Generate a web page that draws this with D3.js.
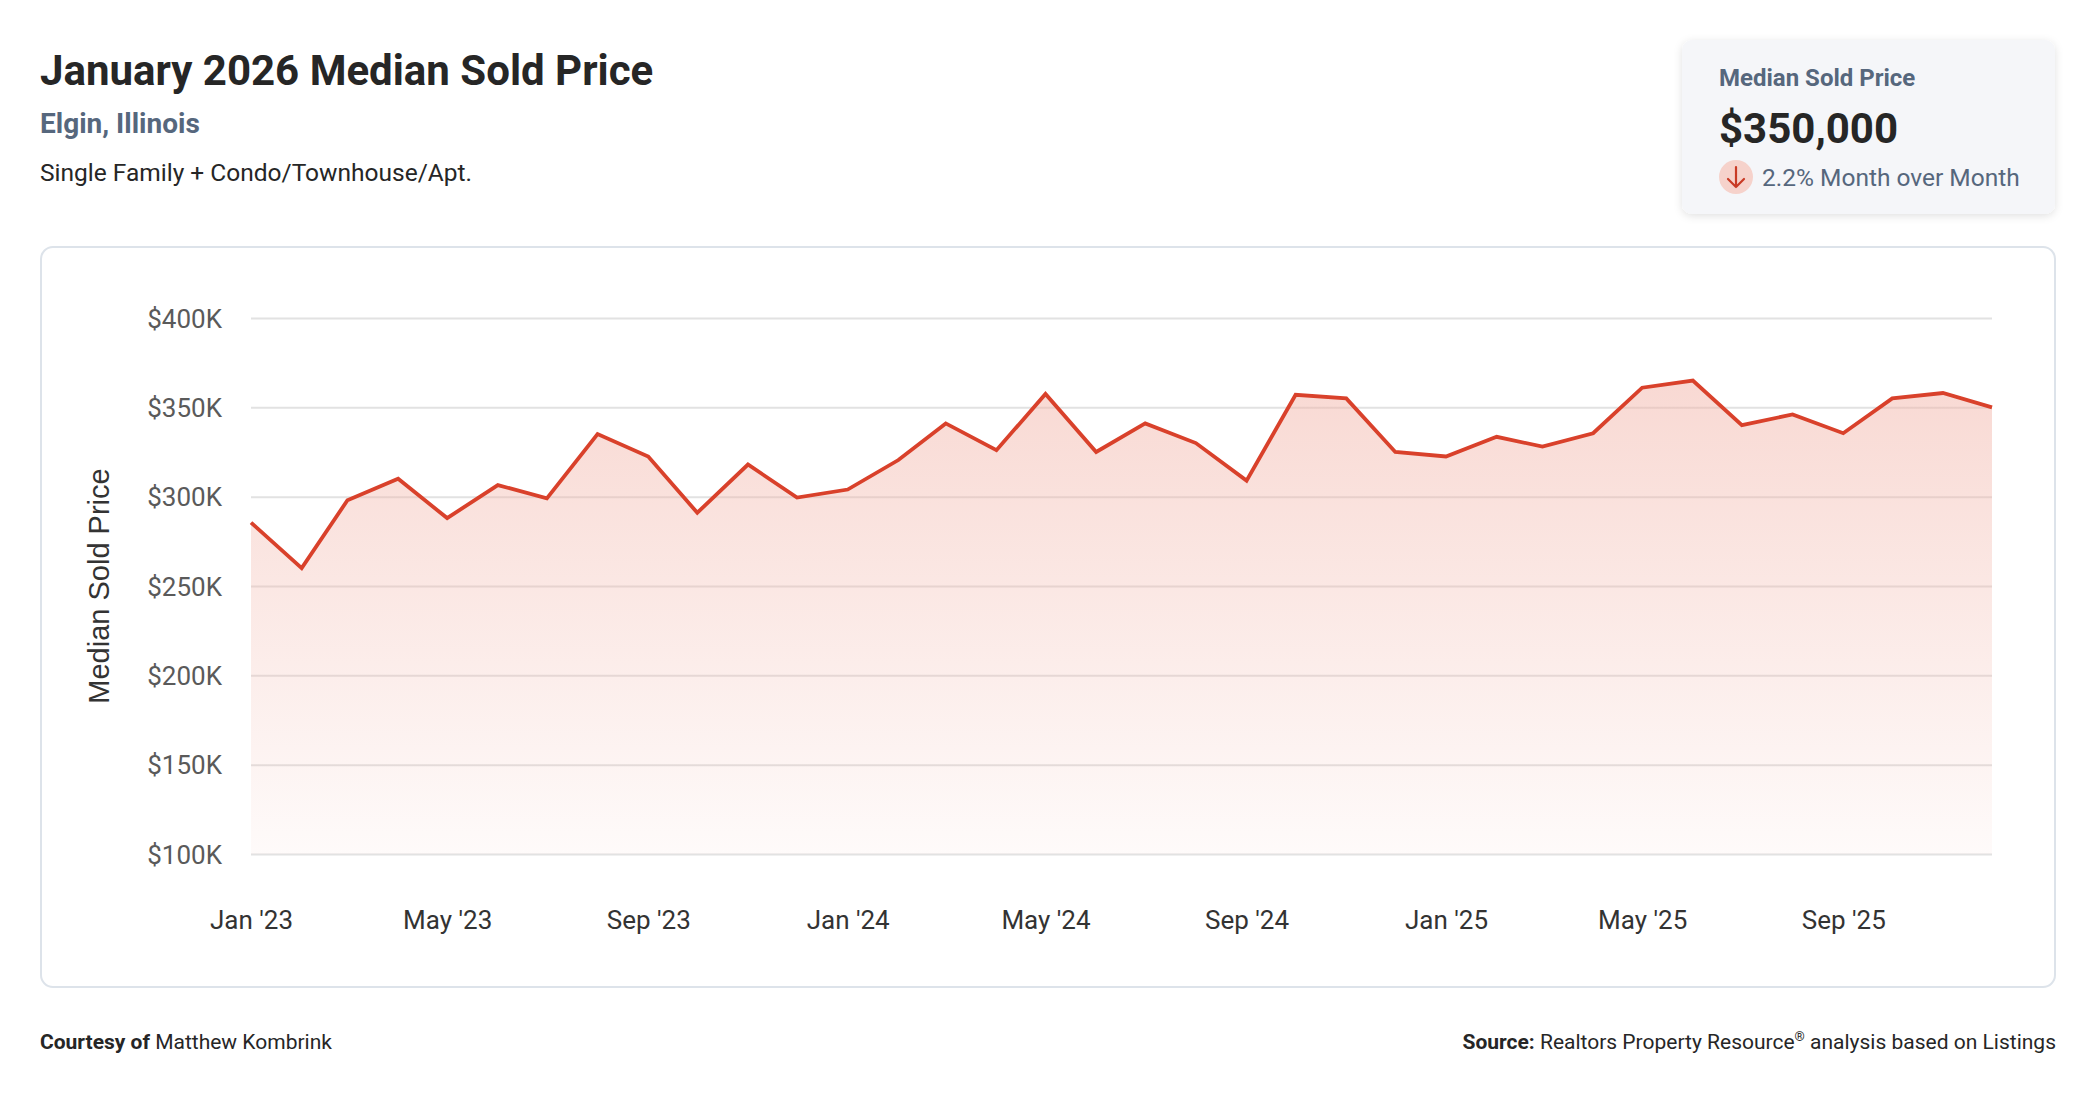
<!DOCTYPE html>
<meta charset="utf-8">
<style>
body { margin: 0; background: #fff; }
svg { display: block; font-family: Roboto, "Noto Sans", sans-serif; }
</style>
<svg id="chart" width="2096" height="1100"></svg>
<script src="https://cdn.jsdelivr.net/npm/d3@7"></script>
<script>

// monthly median sold price, Jan 2023 .. Dec 2025 (36 points)
var months = [
  "2023-01","2023-02","2023-03","2023-04","2023-05","2023-06","2023-07","2023-08","2023-09","2023-10","2023-11","2023-12",
  "2024-01","2024-02","2024-03","2024-04","2024-05","2024-06","2024-07","2024-08","2024-09","2024-10","2024-11","2024-12",
  "2025-01","2025-02","2025-03","2025-04","2025-05","2025-06","2025-07","2025-08","2025-09","2025-10","2025-11","2025-12"
]
var prices = [
  285500, 260000, 298000, 310000, 288000, 306500, 299000, 335000, 322500, 291000, 318000, 299500,
  304000, 320500, 341000, 326000, 357500, 325000, 341000, 330000, 309000, 357000, 355000, 325000,
  322500, 333500, 328000, 335500, 361000, 365000, 340000, 346000, 335500, 355000, 358000, 350000
]
var yTicks = [100000, 150000, 200000, 250000, 300000, 350000, 400000]
var xTickMonths = ["2023-01","2023-05","2023-09","2024-01","2024-05","2024-09","2025-01","2025-05","2025-09"]

var parse = d3.timeParse("%Y-%m")
var data = months.map(function(m, i) { return { date: parse(m), value: prices[i] } })

var svg = d3.select("#chart")

// header
svg.append("text")
  .attr("x", 40).attr("y", 85)
  .style("font-size", "42px").style("font-weight", 700).style("fill", "#262626")
  .text("January 2026 Median Sold Price")

svg.append("text")
  .attr("x", 40).attr("y", 133)
  .style("font-size", "28px").style("font-weight", 700).style("fill", "#56677d")
  .text("Elgin, Illinois")

svg.append("text")
  .attr("x", 40).attr("y", 181)
  .style("font-size", "24.5px").style("fill", "#262626")
  .text("Single Family + Condo/Townhouse/Apt.")

// summary card
var defs = svg.append("defs")
var shadow = defs.append("filter").attr("id", "shadow")
  .attr("x", "-10%").attr("y", "-10%").attr("width", "120%").attr("height", "130%")
shadow.append("feDropShadow")
  .attr("dx", 0).attr("dy", 2).attr("stdDeviation", 4)
  .attr("flood-color", "#000").attr("flood-opacity", 0.12)

var card = svg.append("g").attr("transform", "translate(1682,40)")
card.append("rect")
  .attr("width", 373).attr("height", 174).attr("rx", 10)
  .style("fill", "#f5f6f9").attr("filter", "url(#shadow)")
card.append("text")
  .attr("x", 37).attr("y", 46)
  .style("font-size", "24px").style("font-weight", 700).style("fill", "#56677d")
  .text("Median Sold Price")
card.append("text")
  .attr("x", 37).attr("y", 103)
  .style("font-size", "42px").style("font-weight", 700).style("fill", "#262626")
  .text("$350,000")
card.append("circle")
  .attr("cx", 54).attr("cy", 137).attr("r", 17)
  .style("fill", "#f6d2cb")
card.append("path")
  .attr("d", "M54,127 L54,147 M46,139 L54,147 L62,139")
  .style("fill", "none").style("stroke", "#c93a25").style("stroke-width", 2.2)
  .style("stroke-linecap", "round").style("stroke-linejoin", "round")
card.append("text")
  .attr("x", 80).attr("y", 146)
  .style("font-size", "24.5px").style("fill", "#56677d")
  .text("2.2% Month over Month")

// chart card
svg.append("rect")
  .attr("x", 41).attr("y", 247).attr("width", 2014).attr("height", 740).attr("rx", 12)
  .style("fill", "#fff").style("stroke", "#dde3ea").style("stroke-width", 2)

var plotLeft = 251, plotRight = 1992, plotTop = 318, plotBottom = 854

var x = d3.scaleTime()
  .domain(d3.extent(data, function(d) { return d.date }))
  .range([plotLeft, plotRight])

var y = d3.scaleLinear()
  .domain([100000, 400000])
  .range([plotBottom, plotTop])

var grad = defs.append("linearGradient").attr("id", "fillGrad")
  .attr("gradientUnits", "userSpaceOnUse")
  .attr("x1", 0).attr("y1", y(365000)).attr("x2", 0).attr("y2", plotBottom)
grad.append("stop").attr("offset", "0%").attr("stop-color", "#f2b3a7").attr("stop-opacity", 0.5)
grad.append("stop").attr("offset", "100%").attr("stop-color", "#f2b3a7").attr("stop-opacity", 0.06)

// gridlines + y labels
var yAxis = svg.append("g")
  .attr("transform", "translate(" + plotLeft + ",0)")
  .call(d3.axisLeft(y).tickValues(yTicks).tickSize(-(plotRight - plotLeft)).tickPadding(29)
    .tickFormat(function(d) { return "$" + (d / 1000) + "K" }))
yAxis.select(".domain").remove()
yAxis.selectAll(".tick line").style("stroke", "#e2e2e2").style("stroke-width", 2)
yAxis.selectAll(".tick text")
  .attr("dy", "0.35em")
  .style("font-family", "Roboto").style("font-size", "26px").style("fill", "#5a5a5a")

// area fill
var area = d3.area()
  .x(function(d) { return x(d.date) })
  .y0(y(100000))
  .y1(function(d) { return y(d.value) })

svg.append("path")
  .datum(data)
  .attr("d", area)
  .style("fill", "url(#fillGrad)")

// x labels
var xAxis = svg.append("g")
  .attr("transform", "translate(0," + plotBottom + ")")
  .call(d3.axisBottom(x).tickValues(xTickMonths.map(parse)).tickSize(0).tickPadding(57)
    .tickFormat(d3.timeFormat("%b '%y")))
xAxis.select(".domain").remove()
xAxis.selectAll(".tick text")
  .style("font-family", "Roboto").style("font-size", "26px").style("fill", "#333")

// line
var line = d3.line()
  .x(function(d) { return x(d.date) })
  .y(function(d) { return y(d.value) })

svg.append("path")
  .datum(data)
  .attr("d", line)
  .style("fill", "none").style("stroke", "#d9412b").style("stroke-width", 3.8)
  .style("stroke-linejoin", "miter")

// y axis title
svg.append("text")
  .attr("transform", "translate(109,586) rotate(-90)")
  .style("font-family", "'Liberation Sans', Arial, sans-serif")
  .style("font-size", "29px").style("fill", "#333").style("text-anchor", "middle")
  .text("Median Sold Price")

// footer
var foot = svg.append("text").attr("x", 40).attr("y", 1049)
  .style("font-size", "21px").style("fill", "#262626")
foot.append("tspan").style("font-weight", 700).text("Courtesy of ")
foot.append("tspan").text("Matthew Kombrink")

var src = svg.append("text").attr("x", 2056).attr("y", 1049)
  .style("font-size", "21px").style("fill", "#262626").style("text-anchor", "end")
src.append("tspan").style("font-weight", 700).text("Source: ")
src.append("tspan").text("Realtors Property Resource")
src.append("tspan").attr("dy", -8).style("font-size", "13px").text("®")
src.append("tspan").attr("dy", 8).text(" analysis based on Listings")

</script>
